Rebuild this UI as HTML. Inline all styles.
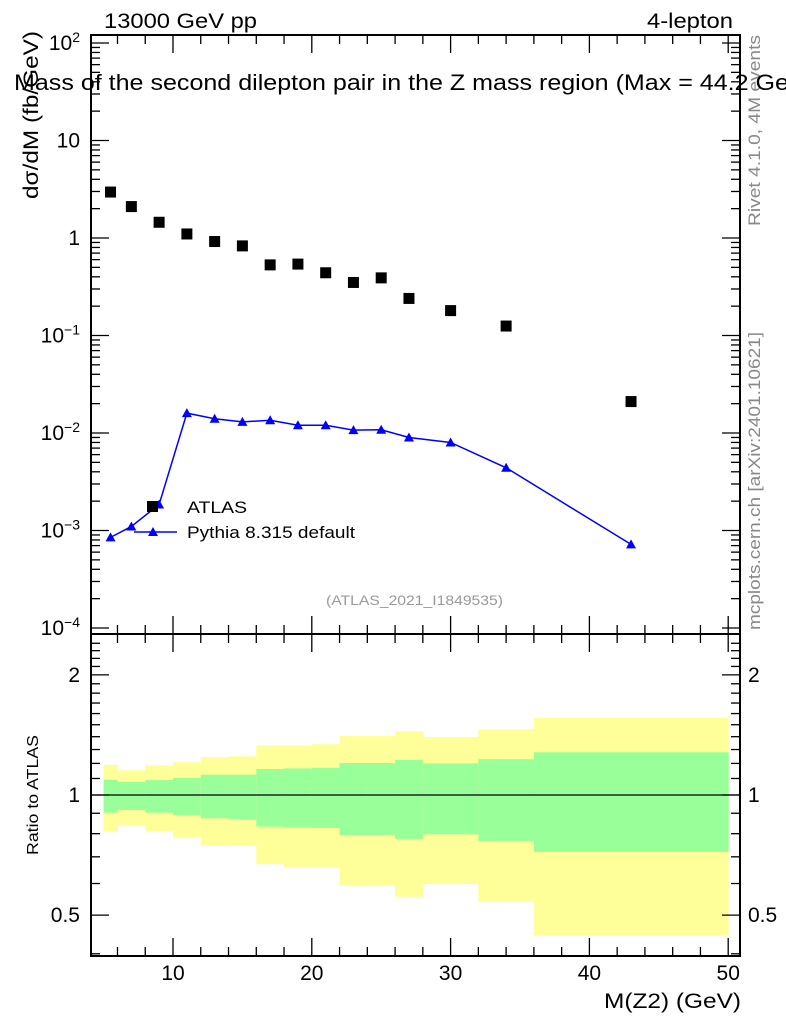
<!DOCTYPE html>
<html><head><meta charset="utf-8"><style>
body{margin:0;background:#fff;}
svg{display:block;font-family:"Liberation Sans",sans-serif;}
</style></head><body>
<svg id="c" width="786" height="1024" viewBox="0 0 786 1024">
<text x="104" y="28" font-size="21" textLength="153" lengthAdjust="spacingAndGlyphs">13000 GeV pp</text>
<text x="647" y="28" font-size="21" textLength="86" lengthAdjust="spacingAndGlyphs">4-lepton</text>
<text x="760" y="226" font-size="17" fill="#888" textLength="191" lengthAdjust="spacingAndGlyphs" transform="rotate(-90 760 226)">Rivet 4.1.0,  4M events</text>
<text x="760" y="630" font-size="17" fill="#888" textLength="298" lengthAdjust="spacingAndGlyphs" transform="rotate(-90 760 630)">mcplots.cern.ch [arXiv:2401.10621]</text>
<g id="bands"></g>
<g id="marks"></g>
<g id="axes"></g>
<text x="14" y="90" font-size="22" textLength="800" lengthAdjust="spacingAndGlyphs">Mass of the second dilepton pair in the Z mass region (Max = 44.2 GeV)</text>
<text x="38" y="115" font-size="21" text-anchor="middle" textLength="168" lengthAdjust="spacingAndGlyphs" transform="rotate(-90 38 115)">dσ/dM (fb/GeV)</text>
<text x="38" y="795" font-size="16" text-anchor="middle" textLength="120" lengthAdjust="spacingAndGlyphs" transform="rotate(-90 38 795)">Ratio to ATLAS</text>
<text x="604" y="1008" font-size="21" textLength="137" lengthAdjust="spacingAndGlyphs">M(Z2) (GeV)</text>
<text x="326" y="605" font-size="14" fill="#999" textLength="177" lengthAdjust="spacingAndGlyphs">(ATLAS_2021_I1849535)</text>
<g>
<rect x="147" y="501" width="11" height="11" fill="#000"/>
<text x="187" y="513" font-size="17" textLength="60" lengthAdjust="spacingAndGlyphs">ATLAS</text>
<line x1="134" y1="532" x2="177" y2="532" stroke="#00f" stroke-width="1.5"/>
<polygon points="153,527 158,536 148,536" fill="#00f"/>
<text x="187" y="538" font-size="17" textLength="168" lengthAdjust="spacingAndGlyphs">Pythia 8.315 default</text>
</g>
</svg>
<script>
const edges=[5,6,8,10,12,14,16,18,20,22,24,26,28,32,36,50];
const centers=[5.5,7,9,11,13,15,17,19,21,23,25,27,30,34,43];
const atlas=[2.96,2.1,1.45,1.1,0.92,0.83,0.53,0.54,0.44,0.35,0.39,0.24,0.18,0.125,0.021];
const pythia=[0.00085,0.0011,0.00185,0.016,0.014,0.013,0.0135,0.012,0.012,0.0107,0.0108,0.009,0.008,0.0044,0.00072];
const yelUp=[1.19,1.153,1.187,1.208,1.245,1.25,1.33,1.33,1.34,1.405,1.405,1.445,1.398,1.46,1.56];
const grnUp=[1.092,1.078,1.09,1.103,1.124,1.124,1.162,1.166,1.17,1.203,1.203,1.224,1.2,1.23,1.28];
const grnLo=[0.903,0.917,0.903,0.891,0.874,0.869,0.833,0.828,0.827,0.794,0.794,0.776,0.797,0.767,0.72];
const yelLo=[0.809,0.839,0.812,0.783,0.749,0.745,0.671,0.66,0.657,0.592,0.592,0.556,0.598,0.54,0.445];
const xTicks=[10,20,30,40,50];
const yTicks=[2,1,0,-1,-2,-3,-4];
const rTicks=[0.5,1,2];

const NS="http://www.w3.org/2000/svg";
const L=91,R=740,T=35,M=634,B=956;
const X=v=>173+(v-10)*13.88;
const Y=v=>238-Math.log10(v)*97.5;
const RY=v=>795-Math.log10(v)*399;
function mk(p,tag,a){const e=document.createElementNS(NS,tag);for(const k in a)e.setAttribute(k,a[k]);p.appendChild(e);return e;}
const bands=document.getElementById('bands'),marks=document.getElementById('marks'),axes=document.getElementById('axes');
for(let i=0;i<centers.length;i++){
 const x0=X(edges[i]),x1=X(edges[i+1]);
 const y=mk(bands,'rect',{x:x0,y:RY(yelUp[i]),width:x1-x0+0.5,height:RY(yelLo[i])-RY(yelUp[i]),fill:'#ffff99'});
 
 
 const g=mk(bands,'rect',{x:x0,y:RY(grnUp[i]),width:x1-x0+0.5,height:RY(grnLo[i])-RY(grnUp[i]),fill:'#99ff99'});
 
 
}
const one=mk(bands,'line',{x1:L,x2:R,y1:RY(1),y2:RY(1),stroke:'#000','stroke-width':1.3});


const pl=mk(marks,'polyline',{points:centers.map((c,i)=>X(c)+','+Y(pythia[i])).join(' '),fill:'none',stroke:'#00f','stroke-width':1.5});


for(let i=0;i<centers.length;i++){
 const x=X(centers[i]),y=Y(atlas[i]);
 const r=mk(marks,'rect',{x:x-5.5,y:y-5.5,width:11,height:11,fill:'#000'});
 
 
 const py=Y(pythia[i]);
 const t=mk(marks,'polygon',{points:`${x},${py-5} ${x+5},${py+4} ${x-5},${py+4}`,fill:'#00f'});
 
 
}
for(const [a,b] of [[T,M],[M,B]]){
 const f=mk(axes,'rect',{x:L,y:a,width:R-L,height:b-a,fill:'none',stroke:'#000','stroke-width':2});
 
 
}
for(let v=5;v<=50;v++){
 const x=X(v),maj=v%10==0,len=maj?18:(v%2==0?9:0);
 if(!len)continue;
 for(const [yy,d] of [[T,1],[M,-1],[M,1],[B,-1]]) mk(axes,'line',{x1:x,x2:x,y1:yy,y2:yy+d*len,stroke:'#000','stroke-width':1.3});
}
xTicks.forEach(v=>{const t=mk(axes,'text',{x:X(v),y:980,'font-size':21,'text-anchor':'middle'});t.textContent=v;
 
 });
for(let d=-4;d<=2;d++){
 for(let m=1;m<10;m++){
  const v=m*Math.pow(10,d),y=Y(v);if(y<T||y>M)continue;
  const len=m==1?18:9;
  mk(axes,'line',{x1:L,x2:L+len,y1:y,y2:y,stroke:'#000','stroke-width':1.3});
  mk(axes,'line',{x1:R,x2:R-len,y1:y,y2:y,stroke:'#000','stroke-width':1.3});
 }
}
yTicks.forEach(d=>{
 const y=Y(Math.pow(10,d));
 const t=mk(axes,'text',{x:80,y:y+7,'font-size':21,'text-anchor':'end'});
 
 
 if(d==1)t.textContent='10';else if(d==0)t.textContent='1';
 else{t.textContent='10';const s=mk(t,'tspan',{dy:-8,'font-size':14});s.textContent=(d<0?'\u2212':'')+Math.abs(d);}
});
for(let v=0.4;v<=2.5;v+=0.1){
 const y=RY(v);if(y<M||y>B)continue;
 const r=Math.round(v*10)/10,maj=(r==0.5||r==1||r==2),len=maj?18:9;
 mk(axes,'line',{x1:L,x2:L+len,y1:y,y2:y,stroke:'#000','stroke-width':1.3});
 mk(axes,'line',{x1:R,x2:R-len,y1:y,y2:y,stroke:'#000','stroke-width':1.3});
}
rTicks.forEach(v=>{
 for(const [x,a] of [[80,'end'],[748,'start']]){
  const t=mk(axes,'text',{x:x,y:RY(v)+7,'font-size':21,'text-anchor':a});t.textContent=v;
  
  
 }
});
</script>
</body></html>
